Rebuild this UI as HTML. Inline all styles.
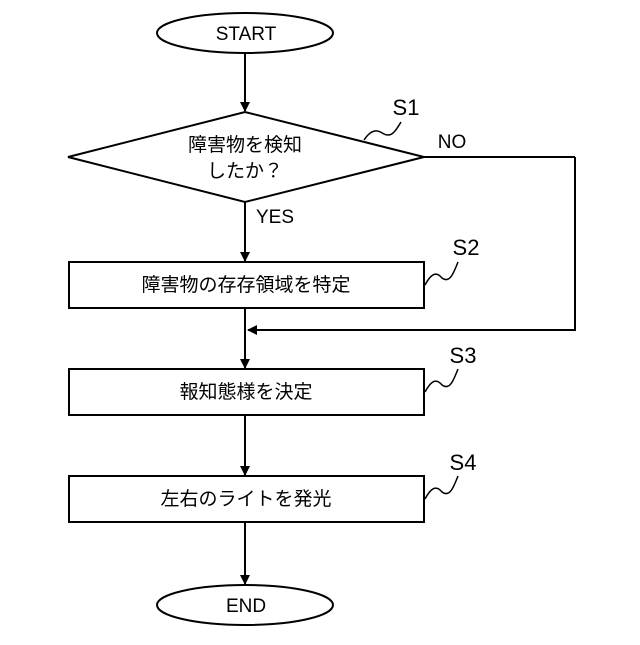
<!DOCTYPE html>
<html><head><meta charset="utf-8"><style>body{margin:0;background:#fff}</style></head><body>
<svg width="640" height="640" viewBox="0 0 640 640" xmlns="http://www.w3.org/2000/svg" font-family="'Liberation Sans','Noto Sans CJK JP',sans-serif" font-size="19" fill="none" stroke="#000" stroke-width="2">
<defs><marker id="a" markerWidth="10" markerHeight="10" refX="9" refY="5" orient="auto" markerUnits="userSpaceOnUse"><path d="M0,0 L10,5 L0,10 z" fill="#000" stroke="none"/></marker></defs>
<ellipse cx="245" cy="33" rx="88" ry="20"/>
<line x1="245" y1="53" x2="245" y2="111" marker-end="url(#a)"/>
<polygon points="68,157 245,112 424,157 245,202"/>
<line x1="424" y1="157" x2="575" y2="157"/>
<polyline points="575,157 575,330 248,330" marker-end="url(#a)"/>
<line x1="245" y1="202" x2="245" y2="261" marker-end="url(#a)"/>
<rect x="69" y="262" width="355" height="46"/>
<line x1="245" y1="308" x2="245" y2="368" marker-end="url(#a)"/>
<rect x="69" y="369" width="355" height="46"/>
<line x1="245" y1="415" x2="245" y2="475" marker-end="url(#a)"/>
<rect x="69" y="476" width="355" height="46"/>
<line x1="245" y1="522" x2="245" y2="584" marker-end="url(#a)"/>
<ellipse cx="245" cy="605" rx="88" ry="20"/>
<g stroke-width="1.5">
<path d="M364,140 C372,128 378,130 384,134 C392,138 396,130 401,122"/>
<path d="M425,285 C432,272 437,272 442,278 C450,284 454,272 458,262"/>
<path d="M425,392 C432,379 437,379 442,385 C450,391 454,379 458,369"/>
<path d="M425,499 C432,486 437,486 442,492 C450,498 454,486 458,476"/>
</g>
<g fill="#000" stroke="none" text-anchor="middle">
<text x="246" y="40">START</text>
<text x="246" y="612">END</text>
<text x="245" y="151">障害物を検知</text>
<text x="245" y="177">したか？</text>
<text x="246" y="291">障害物の存存領域を特定</text>
<text x="246" y="398">報知態様を決定</text>
<text x="246" y="505">左右のライトを発光</text>
<text x="275" y="223">YES</text>
<text x="452" y="148">NO</text>
<text x="406" y="115" font-size="22">S1</text>
<text x="466" y="255" font-size="22">S2</text>
<text x="463" y="363" font-size="22">S3</text>
<text x="463" y="470" font-size="22">S4</text>
</g>
</svg>
</body></html>
